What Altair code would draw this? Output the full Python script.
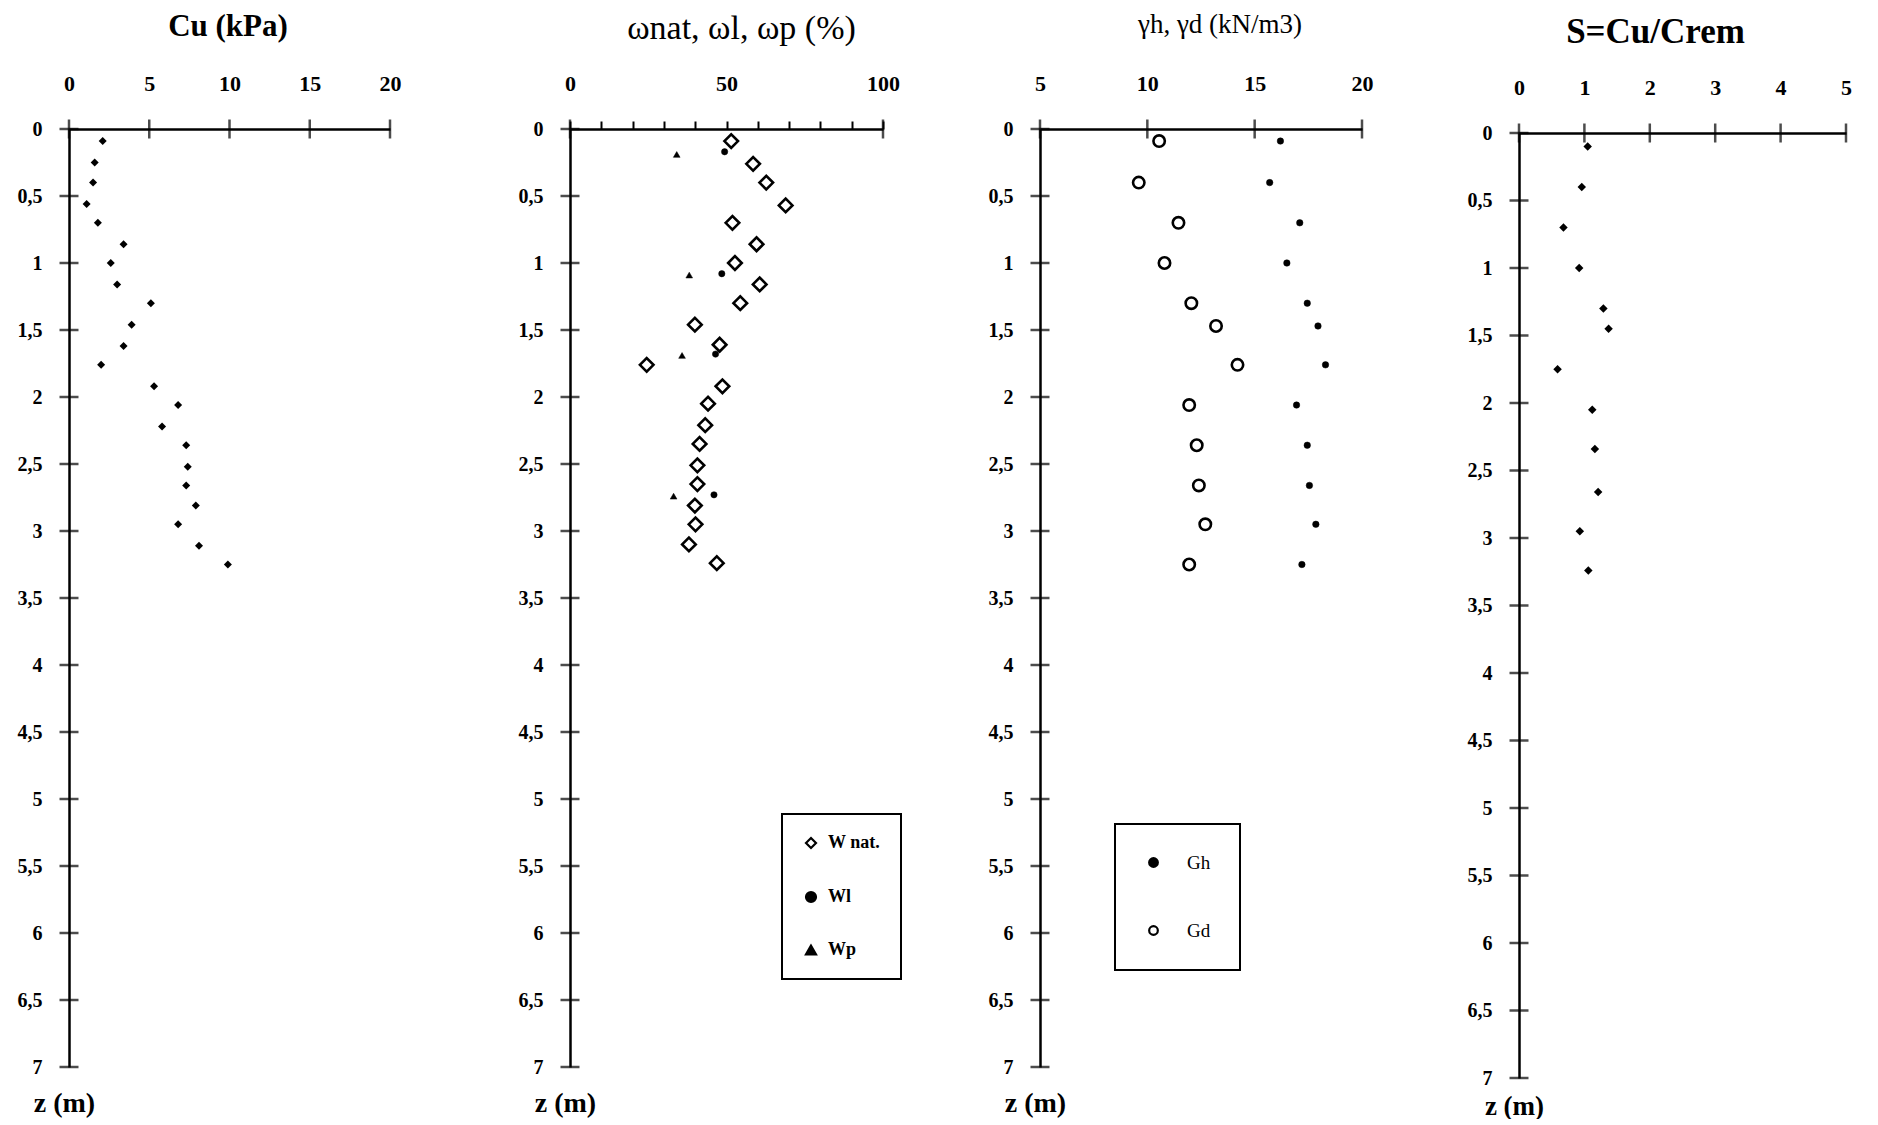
import altair as alt
import pandas as pd

FONT = "Liberation Serif"

# ---------------- data ----------------
# Panel 1 : Cu (kPa)
cu_z = [0.09, 0.25, 0.40, 0.56, 0.70, 0.86, 1.00, 1.16, 1.30, 1.46, 1.62,
        1.76, 1.92, 2.06, 2.22, 2.36, 2.52, 2.66, 2.81, 2.95, 3.11, 3.25]
cu_val = [2.1, 1.6, 1.5, 1.1, 1.8, 3.4, 2.6, 3.0, 5.1, 3.9, 3.4,
          2.0, 5.3, 6.8, 5.8, 7.3, 7.4, 7.3, 7.9, 6.8, 8.1, 9.9]

# Panel 2 : water contents (%)
wnat_z = [0.09, 0.26, 0.40, 0.57, 0.70, 0.86, 1.00, 1.16, 1.30, 1.46, 1.61,
          1.76, 1.92, 2.05, 2.21, 2.35, 2.51, 2.65, 2.81, 2.95, 3.10, 3.24]
wnat_val = [51.5, 58.5, 62.7, 68.9, 51.9, 59.6, 52.7, 60.6, 54.4, 39.9, 47.8,
            24.5, 48.7, 44.1, 43.2, 41.4, 40.7, 40.7, 39.9, 40.1, 38.0, 46.9]
wl_z = [0.17, 1.08, 1.68, 2.73]
wl_val = [49.4, 48.5, 46.5, 46.0]
wp_z = [0.19, 1.09, 1.69, 2.74]
wp_val = [34.1, 38.1, 35.8, 33.1]

# Panel 3 : unit weights (kN/m3)
g_z = [0.09, 0.40, 0.70, 1.00, 1.30, 1.47, 1.76, 2.06, 2.36, 2.66, 2.95, 3.25]
gh_val = [16.2, 15.7, 17.1, 16.5, 17.45, 17.95, 18.3, 16.95, 17.45, 17.55, 17.85, 17.2]
gd_val = [10.55, 9.6, 11.45, 10.8, 12.05, 13.2, 14.2, 11.95, 12.3, 12.4, 12.7, 11.95]

# Panel 4 : sensitivity
s_z = [0.10, 0.40, 0.70, 1.00, 1.30, 1.45, 1.75, 2.05, 2.34, 2.66, 2.95, 3.24]
s_val = [1.05, 0.96, 0.68, 0.92, 1.29, 1.37, 0.59, 1.12, 1.16, 1.21, 0.93, 1.06]

# axis ticks
z_ticks = [0, 0.5, 1, 1.5, 2, 2.5, 3, 3.5, 4, 4.5, 5, 5.5, 6, 6.5, 7]
x1_ticks = [0, 5, 10, 15, 20]
x2_ticks = [0, 10, 20, 30, 40, 50, 60, 70, 80, 90, 100]
x2_cross = [0, 100]
x3_ticks = [5, 10, 15, 20]
x4_ticks = [0, 1, 2, 3, 4, 5]

series2 = ["W nat.", "Wl", "Wp"]
series3 = ["Gh", "Gd"]


def encs(xdom, xrange, xvals, yrange, ztitle_y, xaxis_extra=None, ztitle_size=28):
    ax = dict(orient="top", values=xvals, title=None, grid=False,
              domainColor="black", domainWidth=2.5,
              labelFont=FONT, labelFontSize=22, labelFontWeight="bold",
              labelColor="black", labelFlush=False, labelOverlap=False,
              ticks=False, tickSize=0, labelPadding=34)
    if xaxis_extra:
        ax.update(xaxis_extra)
    x = alt.X("x:Q", scale=alt.Scale(domain=xdom, range=xrange, nice=False, zero=False),
              axis=alt.Axis(**ax))
    y = alt.Y("z:Q", scale=alt.Scale(domain=[0, 7], range=yrange, nice=False, zero=False),
              axis=alt.Axis(orient="left", values=z_ticks, grid=False,
                            labelExpr="replace(format(datum.value, '~g'), '.', ',')",
                            domainColor="black", domainWidth=2.5,
                            ticks=False, tickSize=0, labelPadding=27,
                            labelFont=FONT, labelFontSize=20, labelFontWeight="bold",
                            labelColor="black", labelFlush=False, labelOverlap=False,
                            title="z (m)", titleAngle=0, titleX=-5, titleY=ztitle_y,
                            titleAlign="center", titleBaseline="middle",
                            titleFont=FONT, titleFontSize=ztitle_size, titleFontWeight="bold",
                            titleColor="black"))
    return x, y


def cross_ticks(x, y, xt, xmin):
    dx = pd.DataFrame({"x": xt, "z": [0] * len(xt)})
    dy = pd.DataFrame({"x": [xmin] * len(z_ticks), "z": z_ticks})
    t1 = alt.Chart(dx).mark_tick(orient="vertical", size=19, thickness=2.5,
                                 color="black").encode(x=x, y=y)
    t2 = alt.Chart(dy).mark_tick(orient="horizontal", size=19, thickness=2.5,
                                 color="black").encode(x=x, y=y)
    return [t1, t2]


def title(text, size, weight, dx, offset):
    return alt.TitleParams(text=text, font=FONT, fontSize=size, fontWeight=weight,
                           color="black", anchor="middle", dx=dx, offset=offset)


# ---------------- panel 1 ----------------
x, y = encs([0, 20], [0, 321], x1_ticks, [0, 938], 938 + 36)
d1 = pd.DataFrame({"x": cu_val, "z": cu_z})
pts1 = alt.Chart(d1).mark_point(shape="diamond", filled=True, color="black",
                                size=64, opacity=1).encode(x=x, y=y)
p1 = alt.layer(*cross_ticks(x, y, x1_ticks, 0), pts1).properties(
    width=344, height=938, title=title("Cu (kPa)", 31, "bold", -13, 29))

# ---------------- panel 2 ----------------
x, y = encs([0, 100], [0, 313], x2_ticks, [0, 938], 938 + 36,
            dict(ticks=True, tickSize=8, tickWidth=2, tickColor="black", labelPadding=26,
                 labelExpr="datum.value % 50 == 0 ? datum.label : ''"))
leg2 = alt.Legend(title=None, orient="none", legendX=212, legendY=685,
                  strokeColor="black", padding=20, rowPadding=34,
                  labelFont=FONT, labelFontSize=18, labelFontWeight="bold",
                  labelColor="black", labelOffset=8, symbolSize=100,
                  symbolStrokeWidth=2.2)
shape2 = alt.Shape("series:N", scale=alt.Scale(domain=series2,
                   range=["diamond", "circle", "triangle-up"]), legend=leg2)
fill2 = alt.Fill("series:N", scale=alt.Scale(domain=series2,
                 range=["white", "black", "black"]), legend=leg2)
stroke2 = alt.Stroke("series:N", scale=alt.Scale(domain=series2,
                     range=["black", "black", "black"]), legend=leg2)
dn = pd.DataFrame({"x": wnat_val, "z": wnat_z, "series": series2[0]})
dl = pd.DataFrame({"x": wl_val, "z": wl_z, "series": series2[1]})
dp = pd.DataFrame({"x": wp_val, "z": wp_z, "series": series2[2]})
pn = alt.Chart(dn).mark_point(strokeWidth=2.6, size=185, opacity=1).encode(
    x=x, y=y, shape=shape2, fill=fill2, stroke=stroke2)
pl = alt.Chart(dl).mark_point(strokeWidth=0.5, size=40, opacity=1).encode(
    x=x, y=y, shape=shape2, fill=fill2, stroke=stroke2)
pp = alt.Chart(dp).mark_point(strokeWidth=0.5, size=45, opacity=1).encode(
    x=x, y=y, shape=shape2, fill=fill2, stroke=stroke2)
p2 = alt.layer(*cross_ticks(x, y, x2_cross, 0), pn, pl, pp).properties(
    width=313, height=938, title=title("ωnat, ωl, ωp (%)", 34, "normal", 15, 26))

# ---------------- panel 3 ----------------
x, y = encs([5, 20], [0, 322], x3_ticks, [0, 938], 938 + 36)
leg3 = alt.Legend(title=None, orient="none", legendX=75, legendY=695,
                  strokeColor="black", padding=29, rowPadding=48,
                  labelFont=FONT, labelFontSize=19, labelFontWeight="normal",
                  labelColor="black", labelOffset=24, symbolSize=75,
                  symbolStrokeWidth=2.2)
shape3 = alt.Shape("series:N", scale=alt.Scale(domain=series3, range=["circle", "circle"]),
                   legend=leg3)
fill3 = alt.Fill("series:N", scale=alt.Scale(domain=series3, range=["black", "white"]),
                 legend=leg3)
stroke3 = alt.Stroke("series:N", scale=alt.Scale(domain=series3, range=["black", "black"]),
                     legend=leg3)
dgh = pd.DataFrame({"x": gh_val, "z": g_z, "series": series3[0]})
dgd = pd.DataFrame({"x": gd_val, "z": g_z, "series": series3[1]})
pgh = alt.Chart(dgh).mark_point(strokeWidth=0.5, size=42, opacity=1).encode(
    x=x, y=y, shape=shape3, fill=fill3, stroke=stroke3)
pgd = alt.Chart(dgd).mark_point(strokeWidth=2.6, size=130, opacity=1).encode(
    x=x, y=y, shape=shape3, fill=fill3, stroke=stroke3)
p3 = alt.layer(*cross_ticks(x, y, x3_ticks, 5), pgd, pgh).properties(
    width=322, height=938, title=title("γh, γd (kN/m3)", 27, "normal", 19, 33))

# ---------------- panel 4 ----------------
x, y = encs([0, 5], [0, 327], x4_ticks, [4, 949], 949 + 28, dict(offset=-4), ztitle_size=27)
d4 = pd.DataFrame({"x": s_val, "z": s_z})
pts4 = alt.Chart(d4).mark_point(shape="diamond", filled=True, color="black",
                                size=72, opacity=1).encode(x=x, y=y)
p4 = alt.layer(*cross_ticks(x, y, x4_ticks, 0), pts4).properties(
    width=327, height=949, title=title("S=Cu/Crem", 35, "bold", -27, 26))

chart = alt.hconcat(p1, p2, p3, p4, spacing=157, bounds="flush").resolve_scale(
    shape="independent", fill="independent", stroke="independent").properties(
    padding={"left": 9, "top": 3, "right": 5, "bottom": 0},
    background="white").configure_view(stroke=None).configure_legend(strokeWidth=2)

chart.save("out.html", embed_options={"renderer": "svg", "actions": False})
